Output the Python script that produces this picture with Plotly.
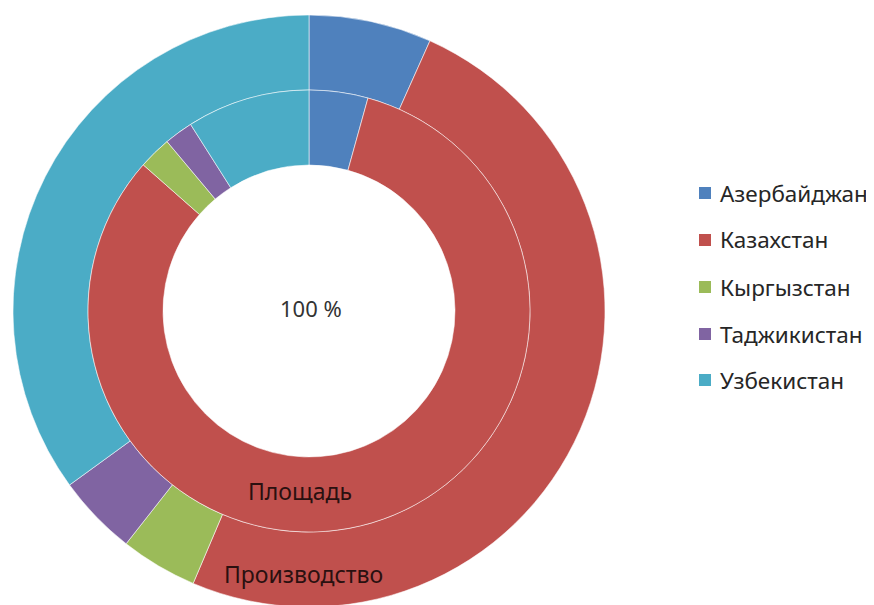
import plotly.graph_objects as go

# ---- data (shares, %) ----
countries = ["Азербайджан", "Казахстан", "Кыргызстан", "Таджикистан", "Узбекистан"]
production = [6.7, 49.7, 4.2, 4.4, 35.0]   # outer ring: Производство
area = [4.3, 82.2, 2.4, 2.1, 9.0]          # inner ring: Площадь
colors = ["#4F81BD", "#C0504D", "#9BBB59", "#8064A2", "#4BACC6"]
center_label = "100 %"
ring_labels = ["Площадь", "Производство"]

W, H = 874, 605
FONT = "Noto Sans"
OFF = 8  # page body margin compensation


def px(x):
    return (x - OFF) / W


def py(y):
    return 1 - (y - OFF) / H


cx, cy = 309, 311
R_out, R_mid, R_hole = 296, 221, 146

line = dict(color="rgba(255,255,255,0.55)", width=1)

fig = go.Figure()
fig.add_trace(go.Pie(
    labels=countries, values=production, sort=False, direction="clockwise",
    rotation=0, hole=R_mid / R_out, textinfo="none", showlegend=False,
    marker=dict(colors=colors, line=line), name="Производство",
    domain=dict(x=[px(cx - R_out), px(cx + R_out)], y=[py(cy + R_out), py(cy - R_out)]),
))
fig.add_trace(go.Pie(
    labels=countries, values=area, sort=False, direction="clockwise",
    rotation=0, hole=R_hole / R_mid, textinfo="none", showlegend=False,
    marker=dict(colors=colors, line=line), name="Площадь",
    domain=dict(x=[px(cx - R_mid), px(cx + R_mid)], y=[py(cy + R_mid), py(cy - R_mid)]),
))

annotations = [
    dict(text=center_label, x=px(311), y=py(308), font=dict(size=22, color="#333333")),
    dict(text=ring_labels[0], x=px(300), y=py(491), font=dict(size=23, color="#2a1010")),
    dict(text=ring_labels[1], x=px(303), y=py(574), font=dict(size=23, color="#2a1010")),
]
shapes = []
row_y = [193, 240, 287, 334, 380]
for name, col, yy in zip(countries, colors, row_y):
    annotations.append(dict(text=name, x=px(718), y=py(yy), xanchor="left",
                            font=dict(size=22.5, color="#262626")))
    shapes.append(dict(type="rect", xref="paper", yref="paper",
                       x0=px(699), x1=px(711), y0=py(yy + 6), y1=py(yy - 6),
                       fillcolor=col, line=dict(width=0)))
for a in annotations:
    a.update(xref="paper", yref="paper", showarrow=False)
    a.setdefault("xanchor", "center")
    a["yanchor"] = "middle"

fig.update_layout(
    width=W, height=H, margin=dict(l=0, r=0, t=0, b=0),
    paper_bgcolor="white", plot_bgcolor="white",
    font=dict(family=FONT), annotations=annotations, shapes=shapes,
)
fig.write_html("out.html")
